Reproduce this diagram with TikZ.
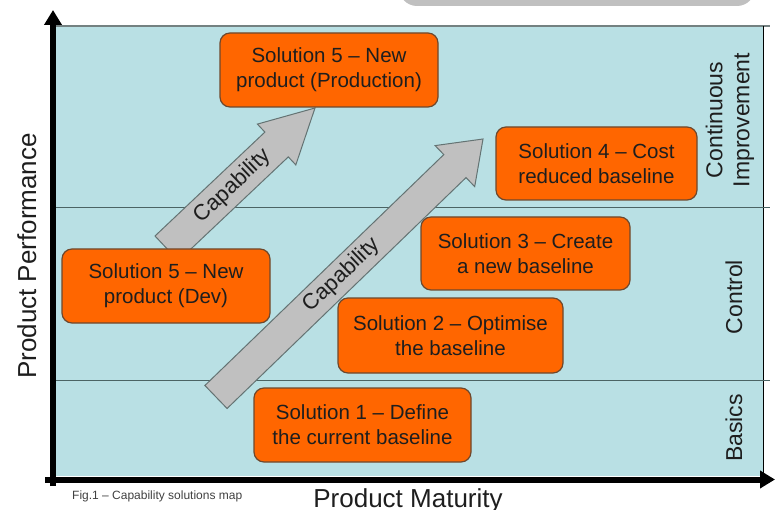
\documentclass[tikz,border=0pt]{standalone}
\usepackage{fontspec}
\setmainfont{Liberation Sans}
\usetikzlibrary{arrows.meta}
\definecolor{panelblue}{RGB}{185,224,228}
\definecolor{solorange}{RGB}{255,102,0}
\definecolor{soledge}{RGB}{110,72,45}
\definecolor{capgrey}{RGB}{192,192,192}
\definecolor{capedge}{RGB}{100,115,115}
\definecolor{bandline}{RGB}{75,100,100}
\definecolor{inkdark}{RGB}{30,30,30}
\tikzset{
    solution/.style={draw=soledge,fill=solorange,line width=1.2pt,rounded corners=10pt,
        align=center,inner sep=0pt,text=inkdark,font=\fontsize{20.5}{25}\selectfont},
    capability/.style={draw=capedge,fill=capgrey,line width=1pt},
    caplabel/.style={rotate=43.5,text=inkdark,font=\fontsize{22}{26}\selectfont},
    axisline/.style={line width=6pt,-{Triangle[length=15pt,width=17pt]}},
    band/.style={draw=bandline,line width=1pt},
    level/.style={rotate=90,align=center,text=inkdark,font=\fontsize{23}{27}\selectfont}
}

\begin{document}
\begin{tikzpicture}[x=1pt,y=-1pt]
    \useasboundingbox (0,0) rectangle (778,510);
    % grey tab at the top
    \fill[capgrey,rounded corners=18pt] (399,-40) rectangle (755,6);
    % background panel and bands
    \fill[panelblue] (56,26) rectangle (763,476);
    \draw[line width=2pt,draw=capedge!90] (56,26.5) -- (770,26.5);
    \draw[line width=0.8pt] (763,26) -- (763,476);
    \draw[band] (56,208) -- (770,208);
    \draw[band] (56,380) -- (770,380);
    % axes
    \coordinate (yfoot) at (53,486);
    \coordinate (ytop) at (53,10);
    \coordinate (xfoot) at (45,479.5);
    \coordinate (xtop) at (775,479.5);
    \draw[axisline] (yfoot) -- (ytop);
    \draw[axisline] (xfoot) -- (xtop);
    % capability arrows
    \draw[capability] (155.0,236.0) -- (264.9,132.1) -- (257.4,124.1) -- (315,108)
        -- (295.8,164.9) -- (288.3,156.9) -- (178.4,260.8) -- cycle;
    \node[caplabel] (cap1) at (233,186) {Capability};
    \draw[capability] (204.9,385.5) -- (443.8,154.6) -- (435.1,145.6) -- (483,139)
        -- (474.7,186.6) -- (466.0,177.6) -- (227.1,408.5) -- cycle;
    \node[caplabel] (cap2) at (342,275) {Capability};
    % solutions
    \node[solution,minimum width=218pt,minimum height=74pt] (s5prod) at (329,70)
        {Solution 5 -- New\\product (Production)};
    \node[solution,minimum width=201pt,minimum height=73pt] (s4) at (596.5,163.5)
        {Solution 4 -- Cost\\reduced baseline};
    \node[solution,minimum width=208pt,minimum height=74pt] (s5dev) at (166,286)
        {Solution 5 -- New\\product (Dev)};
    \node[solution,minimum width=209pt,minimum height=73pt] (s3) at (525.5,253.5)
        {Solution 3 -- Create\\a new baseline};
    \node[solution,minimum width=225pt,minimum height=75pt] (s2) at (450.5,335.5)
        {Solution 2 -- Optimise\\the baseline};
    \node[solution,minimum width=217pt,minimum height=74pt] (s1) at (362.5,425)
        {Solution 1 -- Define\\the current baseline};
    % levels
    \node[level] (improve) at (730,120) {Continuous\\Improvement};
    \node[level,anchor=base] (control) at (742,297) {Control};
    \node[level,anchor=base] (basics) at (742,428) {Basics};
    % axis titles
    \node[rotate=90,anchor=base,text=inkdark,font=\fontsize{26}{30}\selectfont] (perf) at (36,256)
        {Product Performance};
    \node[anchor=base,text=inkdark,font=\fontsize{26}{30}\selectfont] (maturity) at (408,507)
        {Product Maturity};
    \node[anchor=base west,inner sep=0pt,text=inkdark!85,font=\fontsize{12}{14}\selectfont] (caption)
        at (72,499.5) {Fig.1 -- Capability solutions map};
\end{tikzpicture}
\end{document}
